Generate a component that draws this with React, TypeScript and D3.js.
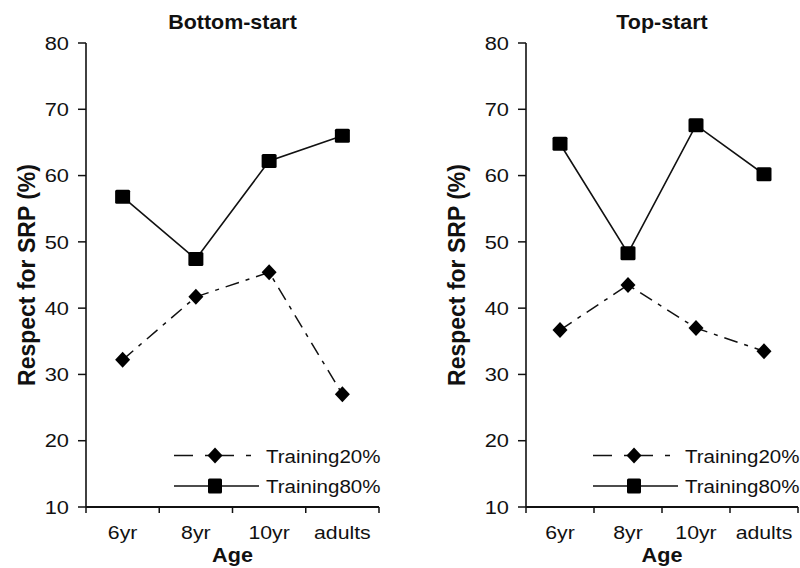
import { useEffect, useRef } from 'react'
import * as d3 from 'd3'

const ages = ['6yr', '8yr', '10yr', 'adults']
const yTicks = [10, 20, 30, 40, 50, 60, 70, 80]
const seriesNames = ['Training20%', 'Training80%']
const panelTitles = ['Bottom-start', 'Top-start']
const bottomStart20 = [32.2, 41.7, 45.4, 27.0]
const bottomStart80 = [56.8, 47.4, 62.2, 66.0]
const topStart20 = [36.7, 43.5, 37.0, 33.5]
const topStart80 = [64.8, 48.3, 67.6, 60.2]

const FONT = '"Liberation Sans", Arial, Helvetica, sans-serif'
const DASH = '14,7,4,7'

export default function App() {
  const svgRef = useRef<SVGSVGElement>(null)

  useEffect(() => {
    const svg = d3.select(svgRef.current)
    svg.selectAll('*').remove()

    const top = 43
    const bottom = 507
    const y = d3.scaleLinear().domain([10, 80]).range([bottom, top])

    const panels = [
      { title: panelTitles[0], left: 86, right: 379, s20: bottomStart20, s80: bottomStart80, yLabelX: 35 },
      { title: panelTitles[1], left: 526, right: 798, s20: topStart20, s80: topStart80, yLabelX: 465 },
    ]

    // text with a slight horizontal stretch, like the scanned original
    const text = (g: any, x: number, yy: number, s: string, size: number, anchor: string, sx = 1.16, bold = false) => {
      g.append('g')
        .attr('transform', `translate(${x},${yy}) scale(${sx},1)`)
        .append('text')
        .attr('text-anchor', anchor)
        .attr('font-family', FONT)
        .attr('font-size', size)
        .attr('font-weight', bold ? 'bold' : 'normal')
        .attr('fill', '#111')
        .text(s)
    }

    const diamond = 'M0,-8L7.5,0L0,8L-7.5,0Z'

    panels.forEach(p => {
      const g = svg.append('g')
      const x = d3.scaleBand().domain(ages).range([p.left, p.right])
      const cx = (d: string) => (x(d) as number) + x.bandwidth() / 2

      // title
      text(g, (p.left + p.right) / 2, 29, p.title, 19.5, 'middle', 1.1, true)

      // y axis
      g.append('line')
        .attr('x1', p.left).attr('x2', p.left)
        .attr('y1', top).attr('y2', bottom)
        .attr('stroke', '#111').attr('stroke-width', 1.6)
      yTicks.forEach(t => {
        g.append('line')
          .attr('x1', p.left - 8).attr('x2', p.left)
          .attr('y1', y(t)).attr('y2', y(t))
          .attr('stroke', '#111').attr('stroke-width', 1.5)
        text(g, p.left - 17, y(t) + 6.7, String(t), 18.5, 'end', 1.18)
      })

      // x axis
      g.append('line')
        .attr('x1', p.left).attr('x2', p.right)
        .attr('y1', bottom).attr('y2', bottom)
        .attr('stroke', '#111').attr('stroke-width', 2)
      const edges = ages.map(a => x(a) as number).concat([p.right])
      edges.forEach(e => {
        g.append('line')
          .attr('x1', e).attr('x2', e)
          .attr('y1', bottom).attr('y2', bottom + 6)
          .attr('stroke', '#111').attr('stroke-width', 1.5)
      })
      ages.forEach(a => text(g, cx(a), 538.5, a, 18.5, 'middle', 1.15))

      // axis titles
      text(g, (p.left + p.right) / 2, 561.5, 'Age', 20, 'middle', 1.08, true)
      g.append('text')
        .attr('transform', `translate(${p.yLabelX},${(top + bottom) / 2}) rotate(-90)`)
        .attr('text-anchor', 'middle')
        .attr('font-family', FONT)
        .attr('font-size', 23)
        .attr('font-weight', 'bold')
        .attr('fill', '#111')
        .text('Respect for SRP (%)')

      const line = d3.line<number>()
        .x((_, i) => cx(ages[i]))
        .y(v => y(v))

      // Training20%
      g.append('path')
        .attr('d', line(p.s20))
        .attr('fill', 'none')
        .attr('stroke', '#111')
        .attr('stroke-width', 1.5)
        .attr('stroke-dasharray', DASH)
      g.selectAll('.dia')
        .data(p.s20)
        .join('path')
        .attr('class', 'dia')
        .attr('d', diamond)
        .attr('transform', (v, i) => `translate(${cx(ages[i])},${y(v)})`)
        .attr('fill', '#000')

      // Training80%
      g.append('path')
        .attr('d', line(p.s80))
        .attr('fill', 'none')
        .attr('stroke', '#111')
        .attr('stroke-width', 1.6)
      g.selectAll('.sq')
        .data(p.s80)
        .join('rect')
        .attr('class', 'sq')
        .attr('x', (_, i) => cx(ages[i]) - 7.5)
        .attr('y', v => y(v) - 7)
        .attr('width', 15)
        .attr('height', 14)
        .attr('rx', 1.5)
        .attr('fill', '#000')

      // legend
      const lx1 = p.right - 205
      const lx2 = p.right - 123
      const lmid = (lx1 + lx2) / 2
      const rows = [455.5, 486]
      g.append('line')
        .attr('x1', lx1).attr('x2', lx2)
        .attr('y1', rows[0]).attr('y2', rows[0])
        .attr('stroke', '#111').attr('stroke-width', 1.5)
        .attr('stroke-dasharray', '19,12,5,5')
      g.append('path')
        .attr('d', diamond)
        .attr('transform', `translate(${lmid},${rows[0]})`)
        .attr('fill', '#000')
      g.append('line')
        .attr('x1', lx1).attr('x2', lx2 + 3)
        .attr('y1', rows[1]).attr('y2', rows[1])
        .attr('stroke', '#111').attr('stroke-width', 1.5)
      g.append('rect')
        .attr('x', lmid - 7).attr('y', rows[1] - 7.5)
        .attr('width', 14).attr('height', 15)
        .attr('rx', 1.5)
        .attr('fill', '#000')
      seriesNames.forEach((n, i) => text(g, p.right - 113, rows[i] + 7, n, 18.5, 'start', 1.11))
    })
  }, [])

  return (
    <svg
      ref={svgRef}
      width={800}
      height={568}
      style={{ position: 'absolute', left: 0, top: 0, background: '#fff' }}
    />
  )
}
